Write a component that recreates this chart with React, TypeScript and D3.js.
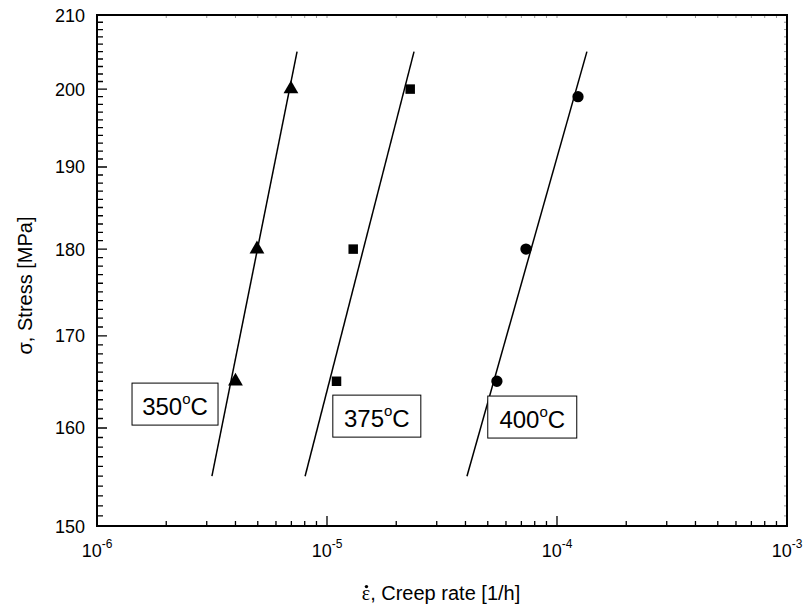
import {useEffect, useRef} from "react";
import * as d3 from "d3";

// creep tests, stress [MPa] vs minimum creep rate [1/h]
const stress350 = [165, 180, 200];
const rate350 = [4.0e-6, 4.96e-6, 6.97e-6];
const stress375 = [165, 180, 200];
const rate375 = [1.1e-5, 1.3e-5, 2.3e-5];
const stress400 = [165, 180, 199];
const rate400 = [5.48e-5, 7.33e-5, 1.234e-4];

// fitted lines, ends at 155 and 205 MPa
const fitStress = [155, 205];
const fit350 = [3.16e-6, 7.41e-6];
const fit375 = [8.03e-6, 2.39e-5];
const fit400 = [4.06e-5, 1.349e-4];

const temps = ["350", "375", "400"];
const xTicks = [1e-6, 1e-5, 1e-4, 1e-3];
const xExp = ["-6", "-5", "-4", "-3"];
const yTicks = [150, 160, 170, 180, 190, 200, 210];

export default function App() {
    const ref = useRef<SVGSVGElement>(null);

    useEffect(() => {
        const el = ref.current;
        if(!el) return;
        const svg = d3.select(el);
        svg.selectAll("*").remove();

        const width = 808;
        const height = 613;
        const margin = {top: 15, right: 21, bottom: 87, left: 97};
        const font = "Liberation Sans, Arial, sans-serif";

        const x = d3.scaleLog().domain([1e-6, 1e-3]).range([margin.left, width - margin.right]);
        const y = d3.scaleLog().domain([150, 210]).range([height - margin.bottom, margin.top]);
        const [x0, x1] = x.range();
        const [y0, y1] = y.range();

        // minor ticks
        const xMinor: number[] = [];
        for(let e = -6; e < -3; e++) {
            for(let m = 2; m <= 9; m++) xMinor.push(m * Math.pow(10, e));
        }
        const yMinor = d3.range(151, 210, 1).filter((v) => v % 10 !== 0);

        // tick paths
        let d = "";
        xTicks.forEach((v) => { d += `M${x(v)},${y0}V${y0 - 10}`; });
        xMinor.forEach((v) => { d += `M${x(v)},${y0}V${y0 - 5}`; });
        yTicks.forEach((v) => { d += `M${x0},${y(v)}H${x0 + 10}`; });
        yMinor.forEach((v) => { d += `M${x0},${y(v)}H${x0 + 6}`; });
        svg.append("path").attr("d", d)
            .attr("fill", "none").attr("stroke", "#000").attr("stroke-width", 1.3);

        let f = "";
        [...xTicks, ...xMinor].forEach((v) => { f += `M${x(v)},${y1}V${y1 + 3}`; });
        [...yTicks, ...yMinor].forEach((v) => { f += `M${x1},${y(v)}H${x1 - 3}`; });
        svg.append("path").attr("d", f)
            .attr("fill", "none").attr("stroke", "#999").attr("stroke-width", 1);

        // frame
        svg.append("rect")
            .attr("x", x0).attr("y", y1)
            .attr("width", x1 - x0).attr("height", y0 - y1)
            .attr("fill", "none").attr("stroke", "#000").attr("stroke-width", 2);

        // tick labels
        svg.append("g").selectAll("text").data(yTicks).join("text")
            .attr("x", x0 - 12).attr("y", (v) => y(v) + 6.5)
            .attr("text-anchor", "end")
            .attr("font-family", font).attr("font-size", 18)
            .text((v) => v);

        const xl = svg.append("g").selectAll("text").data(xTicks).join("text")
            .attr("x", (v) => x(v)).attr("y", y0 + 31)
            .attr("text-anchor", "middle")
            .attr("font-family", font).attr("font-size", 18);
        xl.append("tspan").text("10");
        xl.append("tspan").attr("dy", -9).attr("font-size", 12).text((v, i) => xExp[i]);

        // axis titles
        svg.append("text")
            .attr("transform", `translate(32, ${(y0 + y1) / 2 + 15}) rotate(-90)`)
            .attr("text-anchor", "middle")
            .attr("font-family", font).attr("font-size", 20)
            .text("σ, Stress [MPa]");

        const xt = svg.append("text")
            .attr("x", (x0 + x1) / 2 - 1).attr("y", y0 + 74)
            .attr("text-anchor", "middle")
            .attr("font-family", font).attr("font-size", 20);
        xt.append("tspan").attr("font-family", "Liberation Serif, serif").text("ε");
        xt.append("tspan").text(", Creep rate [1/h]");
        const node = xt.node() as SVGTextElement;
        const eb = node.getExtentOfChar(0);
        svg.append("circle")
            .attr("cx", eb.x + eb.width / 2 + 0.5)
            .attr("cy", eb.y + eb.height * 0.3 - 2)
            .attr("r", 1.7).attr("fill", "#000");

        // fit lines
        const line = d3.line<[number, number]>()
            .x((p) => x(p[0])).y((p) => y(p[1]));
        [fit350, fit375, fit400].forEach((fit) => {
            svg.append("path")
                .datum(fit.map((r, i) => [r, fitStress[i]] as [number, number]))
                .attr("d", line)
                .attr("fill", "none").attr("stroke", "#000").attr("stroke-width", 1.5);
        });

        // markers
        const series = [
            {rate: rate350, stress: stress350, sym: d3.symbolTriangle, size: 95},
            {rate: rate375, stress: stress375, sym: d3.symbolSquare, size: 90},
            {rate: rate400, stress: stress400, sym: d3.symbolCircle, size: 100},
        ];
        series.forEach((s) => {
            svg.append("g").selectAll("path").data(s.rate).join("path")
                .attr("transform", (v, i) => `translate(${x(v)}, ${y(s.stress[i])})`)
                .attr("d", d3.symbol().type(s.sym).size(s.size)())
                .attr("fill", "#000");
        });

        // temperature labels in boxes
        const labelAt = [[1.42e-6, 164.8], [1.06e-5, 163.5], [5.0e-5, 163.4]];
        const boxW = [86, 88, 89];
        temps.forEach((t, i) => {
            const bx = x(labelAt[i][0]);
            const by = y(labelAt[i][1]);
            const g = svg.append("g").attr("transform", `translate(${bx}, ${by})`);
            g.append("rect")
                .attr("width", boxW[i]).attr("height", 42)
                .attr("fill", "#fff").attr("stroke", "#000").attr("stroke-width", 1);
            const tx = g.append("text")
                .attr("x", boxW[i] / 2).attr("y", 32)
                .attr("text-anchor", "middle")
                .attr("font-family", font).attr("font-size", 24);
            tx.append("tspan").text(t);
            tx.append("tspan").attr("dy", -11).attr("font-size", 15).text("o");
            tx.append("tspan").attr("dy", 11).text("C");
        });
    }, []);

    return (
        <svg ref={ref} width={808} height={613}
             style={{position: "absolute", left: 0, top: 0, background: "#fff"}} />
    );
}
